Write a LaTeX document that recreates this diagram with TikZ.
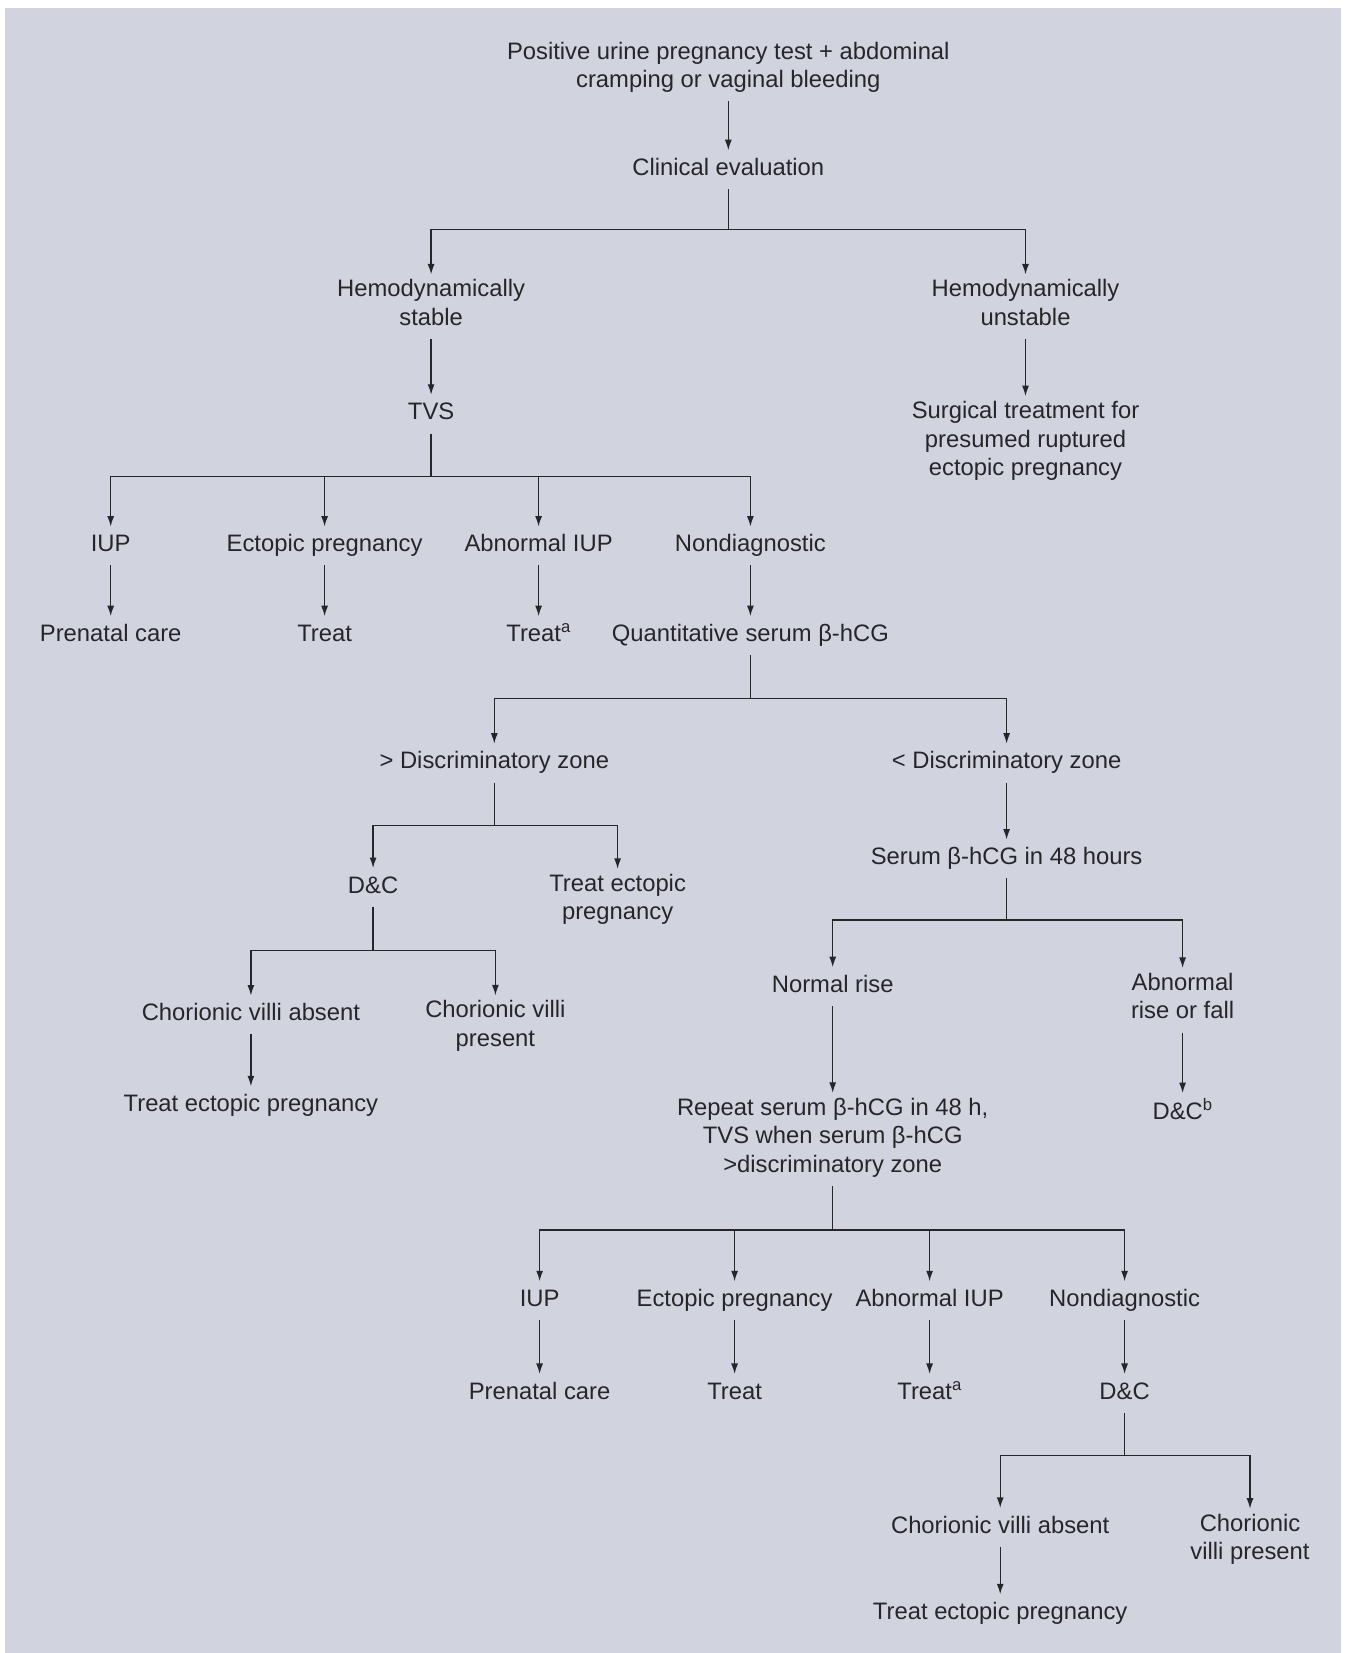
\documentclass[tikz,border=0pt]{standalone}
\usepackage{fontspec}
\setmainfont{Liberation Sans}
\usetikzlibrary{arrows.meta}
\definecolor{bg}{HTML}{D1D3DF}
\definecolor{ink}{HTML}{26262A}
\begin{document}
\begin{tikzpicture}[x=1pt,y=-1pt,
  box/.style={align=center, text=ink, font=\fontsize{23.8}{28.5}\selectfont, inner xsep=2pt, inner ysep=5pt, yshift=-3.2pt,
    execute at begin node={\strut}, execute at end node={\strut}},
  ln/.style={draw=ink, line width=1.3pt},
  arr/.style={ln, -{Latex[length=10.5pt,width=7pt]}}]
\useasboundingbox (0,0) rectangle (1347,1653);
\fill[white] (0,0) rectangle (1347,1653);
\fill[bg] (5,8) rectangle (1341,1653);

\node[box] (top) at (728.3,65.9) {Positive urine pregnancy test + abdominal\\cramping or vaginal bleeding};
\node[box] (clin) at (728.3,166.5) {Clinical evaluation};
\node[box] (stab) at (431.1,303.6) {Hemodynamically\\stable};
\node[box] (unst) at (1025.5,303.6) {Hemodynamically\\unstable};
\node[box] (tvs) at (431.1,411) {TVS};
\node[box] (surg) at (1025.5,439.5) {Surgical treatment for\\presumed ruptured\\ectopic pregnancy};
\node[box] (iup1) at (110.7,542.8) {IUP};
\node[box] (ect1) at (324.6,542.8) {Ectopic pregnancy};
\node[box] (aiup1) at (538.6,542.8) {Abnormal IUP};
\node[box] (nd1) at (750.4,542.8) {Nondiagnostic};
\node[box] (pc1) at (110.7,632.4) {Prenatal care};
\node[box] (tr1) at (324.6,632.4) {Treat};
\node[box] (tra1) at (538.6,632.4) {Treat\textsuperscript{a}};
\node[box] (qs) at (750.4,632.4) {Quantitative serum β-hCG};
\node[box] (gdz) at (494.3,759.9) {> Discriminatory zone};
\node[box] (ldz) at (1006.6,759.9) {< Discriminatory zone};
\node[box] (dc1) at (373.1,884.3) {D\&C};
\node[box] (tep1) at (617.6,898) {Treat ectopic\\pregnancy};
\node[box] (s48) at (1006.6,855.8) {Serum β-hCG in 48 hours};
\node[box] (cva1) at (250.9,1011.8) {Chorionic villi absent};
\node[box] (cvp1) at (495.4,1024.5) {Chorionic villi\\present};
\node[box] (tep2) at (250.9,1102.5) {Treat ectopic pregnancy};
\node[box] (nr) at (832.7,983.4) {Normal rise};
\node[box] (arf) at (1182.6,997.1) {Abnormal\\rise or fall};
\node[box] (rep) at (832.7,1136.2) {Repeat serum β-hCG in 48 h,\\TVS when serum β-hCG\\>discriminatory zone};
\node[box] (dcb) at (1182.6,1109.9) {D\&C\textsuperscript{b}};
\node[box] (iup2) at (539.6,1297.5) {IUP};
\node[box] (ect2) at (734.6,1297.5) {Ectopic pregnancy};
\node[box] (aiup2) at (929.6,1297.5) {Abnormal IUP};
\node[box] (nd2) at (1124.6,1297.5) {Nondiagnostic};
\node[box] (pc2) at (539.6,1390.2) {Prenatal care};
\node[box] (tr2) at (734.6,1390.2) {Treat};
\node[box] (tra2) at (929.6,1390.2) {Treat\textsuperscript{a}};
\node[box] (dc2) at (1124.6,1390.2) {D\&C};
\node[box] (cva2) at (1000.2,1524.1) {Chorionic villi absent};
\node[box] (cvp2) at (1250,1537.8) {Chorionic\\villi present};
\node[box] (tep3) at (1000.2,1610.5) {Treat ectopic pregnancy};

\coordinate (j1) at (728.3,229.8);
\coordinate (j2) at (431.1,476.4);
\coordinate (j3) at (750.4,698.8);
\coordinate (j4) at (494.3,825.3);
\coordinate (j5) at (373.1,950.7);
\coordinate (j6) at (1006.6,920.1);
\coordinate (j7) at (832.7,1230);
\coordinate (j8) at (1124.6,1455.6);

\draw[arr] (top) -- (clin);
\draw[ln] (clin) -- (j1);
\draw[arr] (j1) -| (stab);
\draw[arr] (j1) -| (unst);
\draw[arr] (stab) -- (tvs);
\draw[arr] (unst) -- (surg);
\draw[ln] (tvs) -- (j2);
\draw[arr] (j2) -| (iup1);
\draw[arr] (j2) -| (ect1);
\draw[arr] (j2) -| (aiup1);
\draw[arr] (j2) -| (nd1);
\draw[arr] (iup1) -- (pc1);
\draw[arr] (ect1) -- (tr1);
\draw[arr] (aiup1) -- (tra1);
\draw[arr] (nd1) -- (qs);
\draw[ln] (qs) -- (j3);
\draw[arr] (j3) -| (gdz);
\draw[arr] (j3) -| (ldz);
\draw[ln] (gdz) -- (j4);
\draw[arr] (j4) -| (dc1);
\draw[arr] (j4) -| (tep1);
\draw[arr] (ldz) -- (s48);
\draw[ln] (dc1) -- (j5);
\draw[arr] (j5) -| (cva1);
\draw[arr] (j5) -| (cvp1);
\draw[arr] (cva1) -- (tep2);
\draw[ln] (s48) -- (j6);
\draw[arr] (j6) -| (nr);
\draw[arr] (j6) -| (arf);
\draw[arr] (nr) -- (rep);
\draw[arr] (arf) -- (dcb);
\draw[ln] (rep) -- (j7);
\draw[arr] (j7) -| (iup2);
\draw[arr] (j7) -| (ect2);
\draw[arr] (j7) -| (aiup2);
\draw[arr] (j7) -| (nd2);
\draw[arr] (iup2) -- (pc2);
\draw[arr] (ect2) -- (tr2);
\draw[arr] (aiup2) -- (tra2);
\draw[arr] (nd2) -- (dc2);
\draw[ln] (dc2) -- (j8);
\draw[arr] (j8) -| (cva2);
\draw[arr] (j8) -| (cvp2);
\draw[arr] (cva2) -- (tep3);
\end{tikzpicture}
\end{document}
